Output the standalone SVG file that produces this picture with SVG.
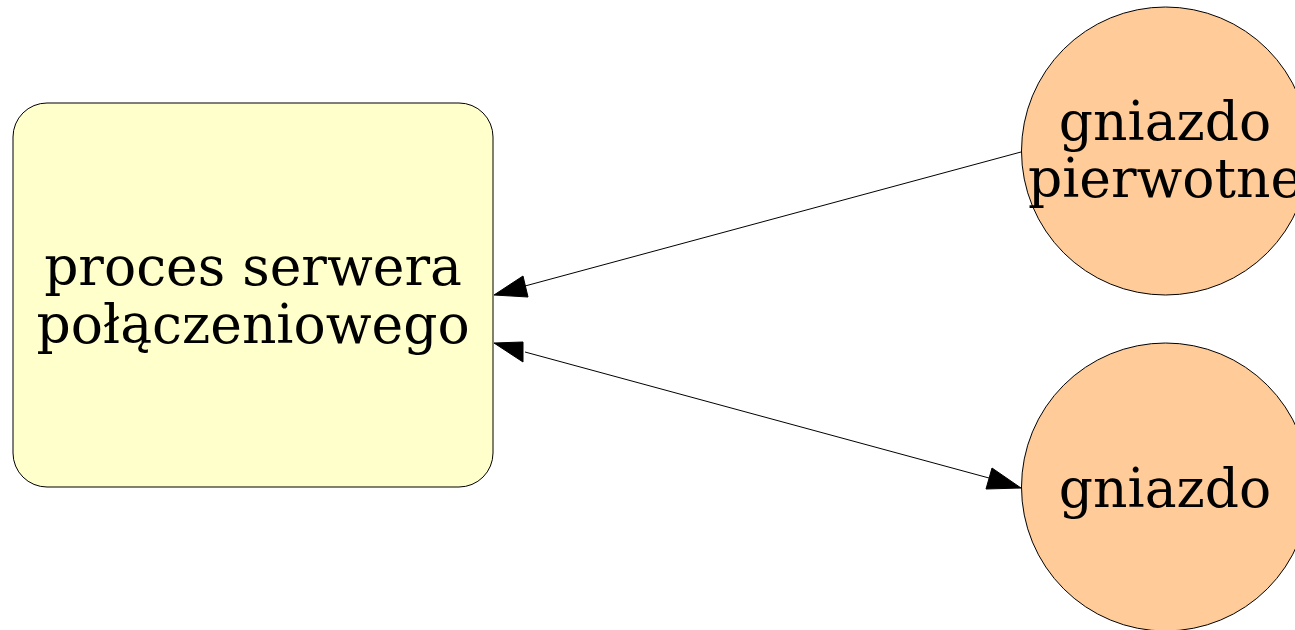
<svg xmlns="http://www.w3.org/2000/svg" width="1295" height="630" viewBox="0 0 1295 630">
<style>
text{font-family:"DejaVu Serif","Liberation Serif",serif;font-size:53.5px;text-anchor:middle;fill:#000}
.edge{stroke:#000;stroke-width:1;fill:none}
.head{fill:#000;stroke:#000;stroke-width:1}
</style>
<rect width="1295" height="630" fill="#fff"/>
<g id="edges">
<path class="edge" d="M1021,152 L525,286"/>
<polygon class="head" points="523,276 494,295 528,297"/>
<path class="edge" d="M525,352 L989,478"/>
<polygon class="head" points="523,342 494,343 523,362"/>
<polygon class="head" points="992,468 1021,488 986,489"/>
</g>
<g id="server">
<rect x="13" y="103" width="480" height="384" rx="34" ry="34" fill="#ffffcc" stroke="#000" stroke-width="1"/>
<text x="253" y="285">proces serwera</text>
<text x="253" y="343">połączeniowego</text>
</g>
<g id="primary">
<circle cx="1165.5" cy="151" r="144" fill="#ffcc99" stroke="#000" stroke-width="1"/>
<text x="1165" y="140">gniazdo</text>
<text x="1165" y="197">pierwotne</text>
</g>
<g id="socket">
<circle cx="1165.5" cy="487" r="144" fill="#ffcc99" stroke="#000" stroke-width="1"/>
<text x="1165" y="507">gniazdo</text>
</g>
</svg>
